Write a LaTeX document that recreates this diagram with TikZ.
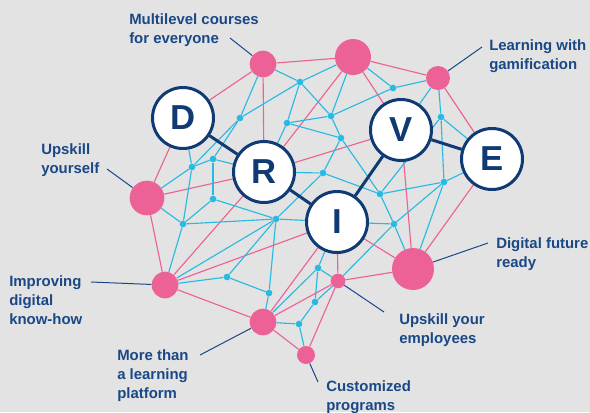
\documentclass[tikz,border=0pt]{standalone}
\usepackage{fontspec}
\setmainfont{Liberation Sans}
\definecolor{pinkc}{RGB}{236,98,150}
\definecolor{cyanc}{RGB}{40,186,226}
\definecolor{darkc}{RGB}{16,58,115}
\definecolor{textc}{RGB}{26,72,134}
\definecolor{bgc}{RGB}{227,227,227}
\pgfdeclarelayer{bg}\pgfdeclarelayer{edges}
\pgfsetlayers{bg,edges,main}
\begin{document}
\begin{tikzpicture}[x=0.75pt,y=-0.75pt,
  pk/.style={circle,fill=pinkc,inner sep=0pt,minimum size=#1},
  cy/.style={circle,fill=cyanc,inner sep=0pt,minimum size=5pt},
  letter/.style={circle,draw=darkc,line width=2.25pt,fill=white,minimum size=45.75pt,inner sep=0pt,text=darkc,font=\fontsize{26}{26}\selectfont\bfseries},
  lbl/.style={anchor=north west,inner sep=0pt,align=left,text=textc,font=\fontsize{11.2}{14.25}\selectfont\bfseries},
  pe/.style={draw=pinkc,line width=0.85pt},
  ce/.style={draw=cyanc,line width=0.85pt},
  de/.style={draw=darkc,line width=2.25pt},
  le/.style={draw=textc,line width=0.75pt}]
\begin{pgfonlayer}{bg}
\fill[bgc] (0,0) rectangle (590,412);
\end{pgfonlayer}
\useasboundingbox (0,0) rectangle (590,412);
% pink nodes
\node[pk=20pt] (P1) at (263,64) {};
\node[pk=27pt] (P2) at (353,57) {};
\node[pk=18pt] (P3) at (438,78) {};
\node[pk=26pt] (P4) at (147,198) {};
\node[pk=20pt] (P5) at (165,285) {};
\node[pk=20pt] (P6) at (263,322) {};
\node[pk=13.5pt] (P7) at (306,355) {};
\node[pk=11pt] (P8) at (338,281) {};
\node[pk=31.5pt] (P9) at (413,269) {};
% cyan nodes
\node[cy] (c1) at (300,82) {};
\node[cy] (c2) at (240,118) {};
\node[cy] (c3) at (287,123) {};
\node[cy] (c4) at (331,116) {};
\node[cy] (c5) at (341,138) {};
\node[cy] (c6) at (393,88) {};
\node[cy] (c7) at (441,117) {};
\node[cy] (c8) at (213,159) {};
\node[cy] (c9) at (192,167) {};
\node[cy] (c10) at (213,199) {};
\node[cy] (c11) at (183,224) {};
\node[cy] (c12) at (276,219) {};
\node[cy] (c13) at (323,173) {};
\node[cy] (c14) at (380,194) {};
\node[cy] (c15) at (444,182) {};
\node[cy] (c16) at (394,224) {};
\node[cy] (c17) at (227,277) {};
\node[cy] (c18) at (269,293) {};
\node[cy] (c19) at (318,268) {};
\node[cy] (c20) at (315,302) {};
\node[cy] (c21) at (299,324) {};
% letters
\node[letter] (D) at (183,118) {D};
\node[letter] (R) at (264,172) {R};
\node[letter] (I) at (337,222) {I};
\node[letter] (V) at (401,130) {V};
\node[letter] (E) at (492,159) {E};
\begin{pgfonlayer}{edges}
\foreach \a/\b in {P1/P2,P1/D,P1/R,P2/R,P2/V,P2/P3,P3/E,P4/D,P4/R,P4/P5,P5/R,P5/I,P5/P6,R/V,P6/I,P6/P8,P6/P7,P8/P7,P8/I,P8/P9,P9/I,P9/V,P9/E}
  \draw[pe] (\a) -- (\b);
\foreach \a/\b in {P1/c1,P1/c2,c1/P2,c1/c2,c1/c3,c1/c4,c3/c4,c3/c5,c3/R,P2/c4,P2/c6,c6/P3,c6/c4,c4/c5,P3/c7,P3/V,c7/E,c7/c15,c7/c14,c2/c8,c2/c9,c8/c9,c8/c10,c8/R,c9/D,c9/P4,c9/c11,c10/c11,c10/c12,c11/c12,c11/P4,c11/P5,c12/I,c12/c13,c12/c18,c12/c17,c12/P5,c13/R,c13/c14,c13/c5,c14/c5,c14/c15,c14/c16,c15/E,c15/c16,c15/P9,c16/I,c16/P9,c16/P8,c17/P5,c17/c18,c18/P6,P6/c19,P6/c21,c19/I,c19/c20,c19/P8,c20/c21,c20/P8,c21/P7}
  \draw[ce] (\a) -- (\b);
\draw[de] (D) -- (R);
\draw[de] (R) -- (I);
\draw[de] (I) -- (V);
\draw[de] (V) -- (E);
\end{pgfonlayer}
% labels
\node[lbl] (t1) at (129,13) {Multilevel courses\\for everyone};
\node[lbl] (t3) at (489,39) {Learning with\\gamification};
\node[lbl] (t4) at (41,143) {Upskill\\yourself};
\node[lbl] (t5) at (9,275) {Improving\\digital\\know-how};
\node[lbl] (t6) at (117,349) {More than\\a learning\\platform};
\node[lbl] (t7) at (326,380) {Customized\\programs};
\node[lbl] (t8) at (399,313) {Upskill your\\employees};
\node[lbl] (t9) at (496,237) {Digital future\\ready};
% leader lines
\coordinate (l1) at (230,38);
\coordinate (l3) at (482,47);
\coordinate (l4) at (107,169);
\coordinate (l5) at (91,282);
\coordinate (l6) at (200,355);
\coordinate (l7) at (318,382);
\coordinate (l8) at (384,312);
\coordinate (l9) at (488,243);
\draw[le] (l1) -- (P1);
\draw[le] (l3) -- (P3);
\draw[le] (l4) -- (P4);
\draw[le] (l5) -- (P5);
\draw[le] (l6) -- (P6);
\draw[le] (l7) -- (P7);
\draw[le] (l8) -- (P8);
\draw[le] (l9) -- (P9);
\end{tikzpicture}
\end{document}
